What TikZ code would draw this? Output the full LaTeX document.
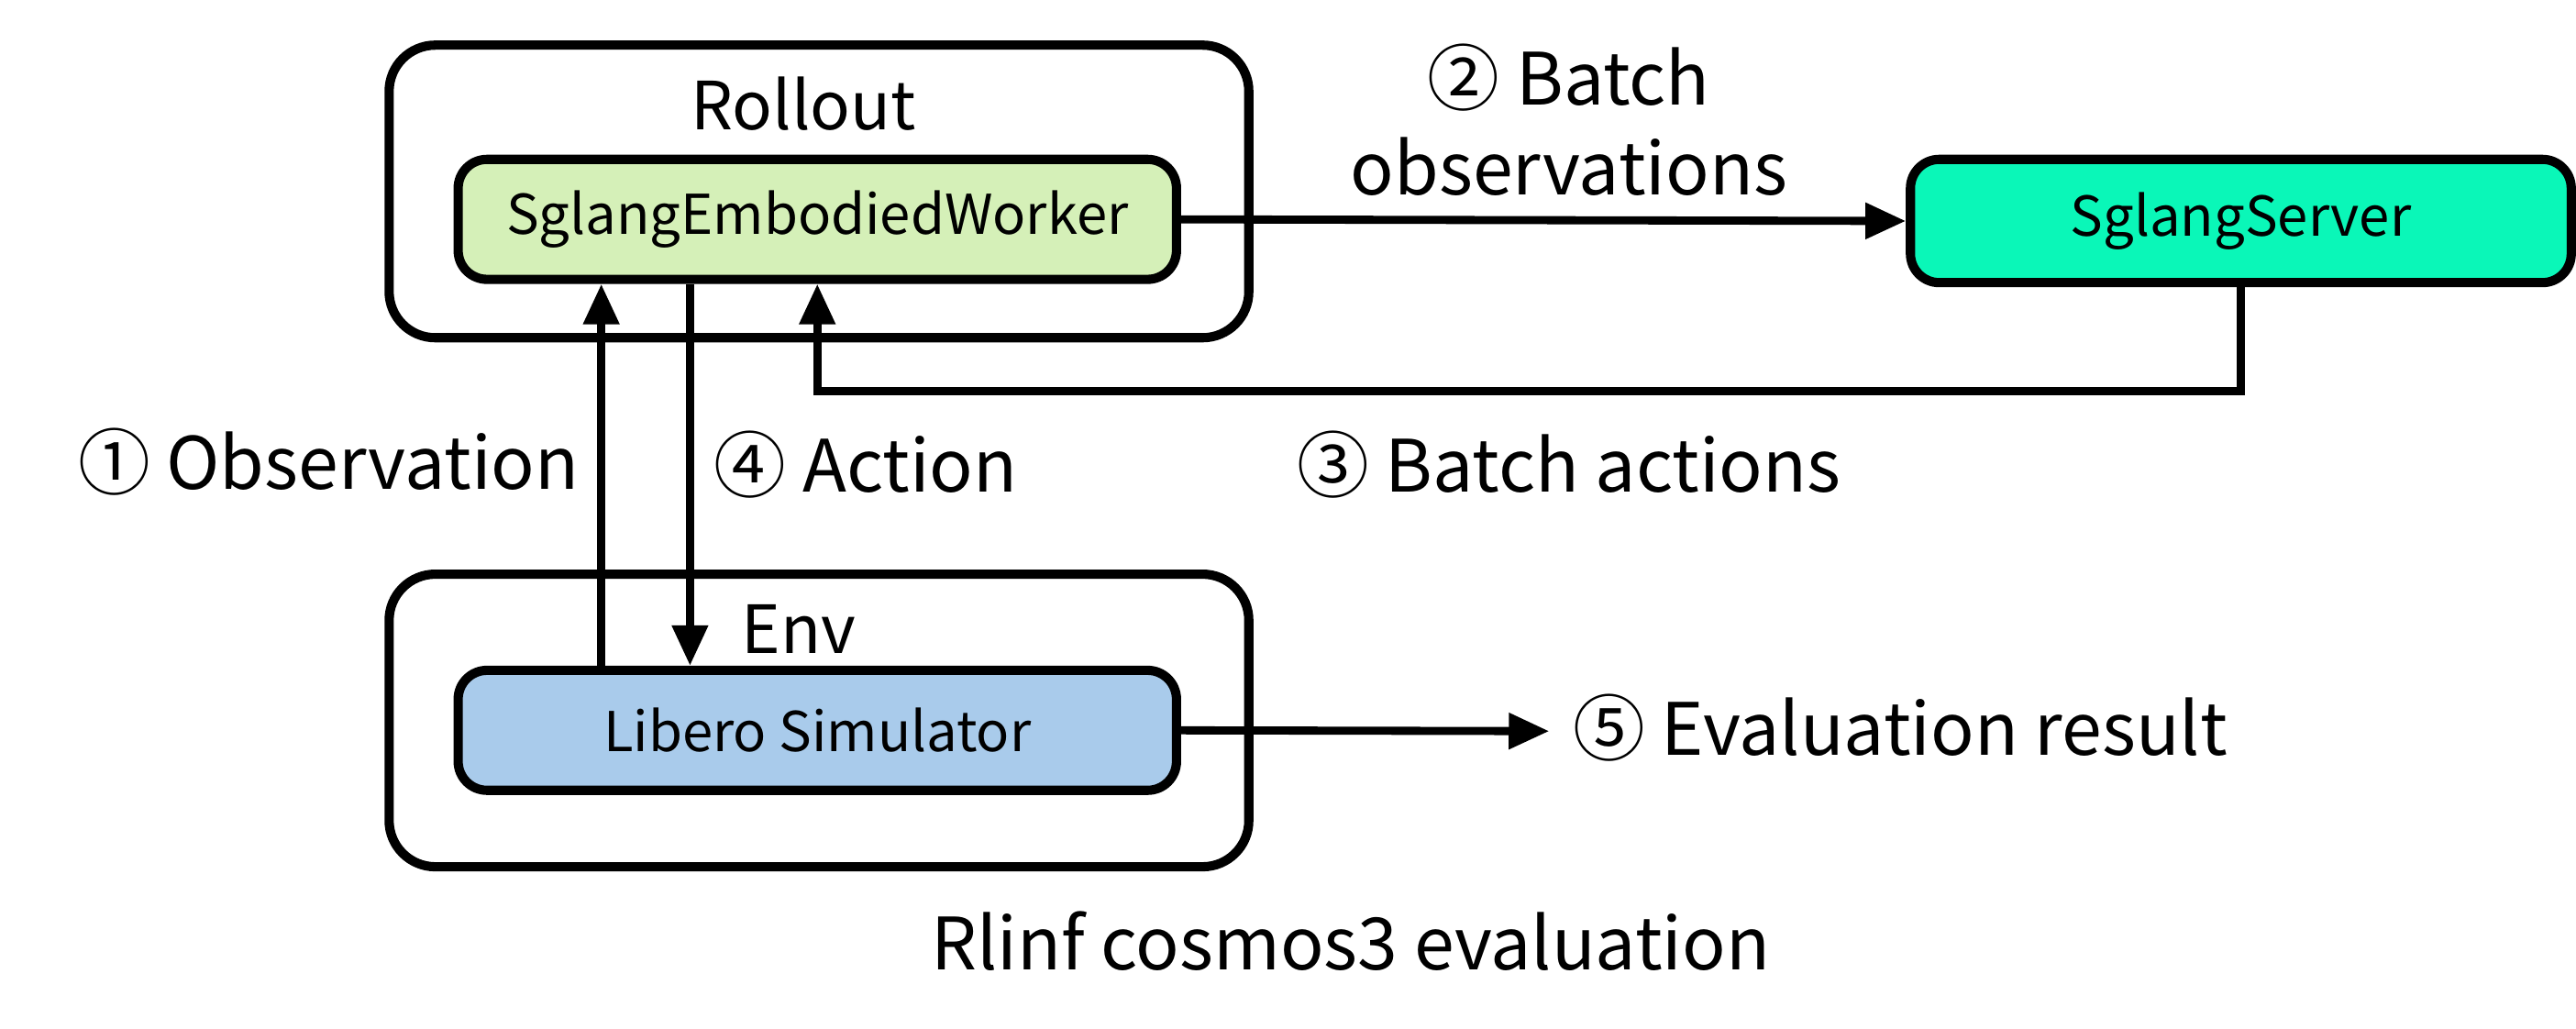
\documentclass[tikz,border=0pt]{standalone}
\usepackage{fontspec}
\setmainfont{Noto Sans CJK SC}
\usetikzlibrary{arrows.meta}
\definecolor{wgreen}{HTML}{D5F0B8}
\definecolor{sgreen}{HTML}{0AF7B8}
\definecolor{lblue}{HTML}{A9CBEB}
\begin{document}
\begin{tikzpicture}[x=0.01cm,y=-0.01cm,
  outer/.style={draw,line width=1.6pt,rounded corners=8pt,minimum width=5.23cm,minimum height=1.78cm,inner sep=0},
  inner/.style={draw,line width=1.6pt,rounded corners=5pt,inner sep=0,minimum height=0.73cm,font=\fontsize{9.5}{11}\selectfont},
  arr/.style={line width=1.4pt,-{Triangle[length=7pt,width=6pt]}},
  lab/.style={font=\fontsize{12.5}{15.5}\selectfont,align=center}]
\useasboundingbox (0,0) rectangle (1568,626);
\node[outer] (ro) at (498.5,116.5) {};
\node[lab,font=\fontsize{11.5}{13}\selectfont] (rl) at (489,63) {Rollout};
\node[inner,fill=wgreen,minimum width=4.37cm] (w) at (497.5,133.5) {SglangEmbodiedWorker};
\node[inner,fill=sgreen,minimum width=4.02cm,minimum height=0.75cm] (s) at (1364,134.5) {SglangServer};
\node[outer] (eo) at (498.5,438.5) {};
\node[lab,font=\fontsize{11.5}{13}\selectfont] (env) at (486,383) {Env};
\node[inner,fill=lblue,minimum width=4.37cm] (lib) at (497.5,444.5) {Libero Simulator};
\draw[arr] (w.east) -- (s.west);
\draw[arr] (s.south) -- ++(0,63) -| (w.south);
\coordinate (o0) at (366,0);
\draw[arr] (o0 |- lib.north) -- (o0 |- w.south);
\coordinate (a0) at (420,0);
\draw[arr] (a0 |- w.south) -- (a0 |- lib.north);
\coordinate (le) at (943,445);
\draw[arr] (lib.east) -- (le);
\node[lab] (bo) at (955,73) {② Batch\\observations};
\node[lab] (ba) at (955,283) {③ Batch actions};
\node[lab] (ob) at (200,281) {① Observation};
\node[lab] (ac) at (527,283) {④ Action};
\node[lab,anchor=west] (ev) at (945,443) {⑤ Evaluation result};
\node[lab] (ti) at (822,573) {Rlinf cosmos3 evaluation};
\end{tikzpicture}
\end{document}
